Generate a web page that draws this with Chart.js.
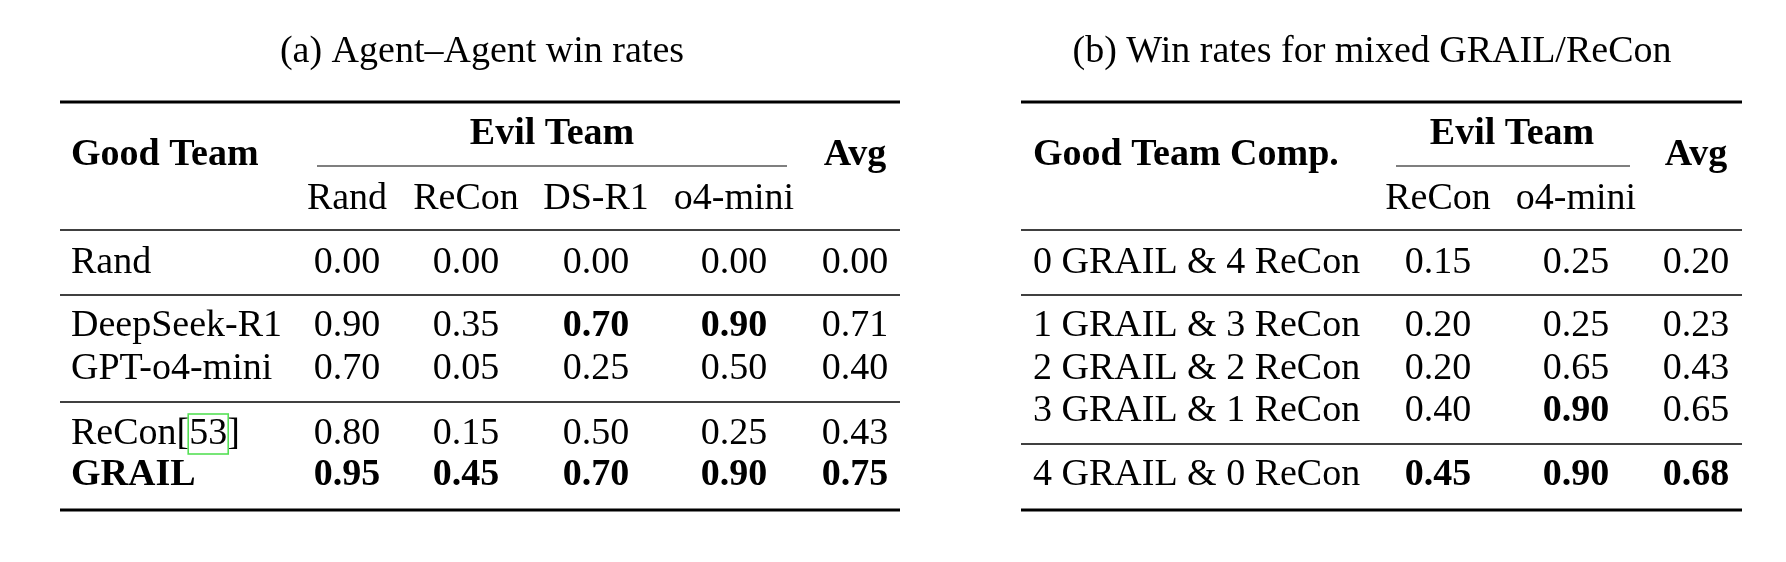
<!DOCTYPE html>
<html>
<head>
<meta charset="utf-8">
<script src="https://cdn.jsdelivr.net/npm/chart.js@4/dist/chart.umd.min.js"></script>
<style>
  html, body { margin: 0; padding: 0; background: #fff; }
  #wrap { width: 1786px; height: 562px; }
</style>
</head>
<body>
<div id="wrap"><canvas id="tbl"></canvas></div>
<script>
// Table (a): Agent-Agent win rates
const evilA = ['Rand', 'ReCon', 'DS-R1', 'o4-mini'];
const goodA = ['Rand', 'DeepSeek-R1', 'GPT-o4-mini', 'ReCon', 'GRAIL'];
const valuesA = [
  [0.00, 0.00, 0.00, 0.00, 0.00],
  [0.90, 0.35, 0.70, 0.90, 0.71],
  [0.70, 0.05, 0.25, 0.50, 0.40],
  [0.80, 0.15, 0.50, 0.25, 0.43],
  [0.95, 0.45, 0.70, 0.90, 0.75]
];
const boldA = [
  [0, 0, 0, 0, 0],
  [0, 0, 1, 1, 0],
  [0, 0, 0, 0, 0],
  [0, 0, 0, 0, 0],
  [1, 1, 1, 1, 1]
];

// Table (b): mixed GRAIL/ReCon
const evilB = ['ReCon', 'o4-mini'];
const goodB = ['0 GRAIL & 4 ReCon', '1 GRAIL & 3 ReCon', '2 GRAIL & 2 ReCon', '3 GRAIL & 1 ReCon', '4 GRAIL & 0 ReCon'];
const valuesB = [
  [0.15, 0.25, 0.20],
  [0.20, 0.25, 0.23],
  [0.20, 0.65, 0.43],
  [0.40, 0.90, 0.65],
  [0.45, 0.90, 0.68]
];
const boldB = [
  [0, 0, 0],
  [0, 0, 0],
  [0, 0, 0],
  [0, 1, 0],
  [1, 1, 1]
];

// layout (in page pixels, mapped through the chart's linear scales)
const layoutA = {
  title: '(a) Agent\u2013Agent win rates', titleX: 482,
  x0: 60, x1: 900, labelX: 71, cols: [347, 466, 596, 734, 855],
  evilX: 552, evilLine: [317, 787], rows: [263, 326, 369, 434, 475],
  rules: [230, 295, 402], head: 'Good Team', titleBold: false
};
const layoutB = {
  title: '(b) Win rates for mixed GRAIL/ReCon', titleX: 1372,
  x0: 1021, x1: 1742, labelX: 1033, cols: [1438, 1576, 1696],
  evilX: 1512, evilLine: [1396, 1630], rows: [263, 326, 369, 411, 475],
  rules: [230, 295, 444], head: 'Good Team Comp.'
};

const FONT = '"Liberation Serif", "Times New Roman", serif';
const SIZE = 38;

const tablePlugin = {
  id: 'tablePlugin',
  afterDraw(chart) {
    const ctx = chart.ctx;
    const sx = chart.scales.x, sy = chart.scales.y;
    const X = v => sx.getPixelForValue(v);
    const Y = v => sy.getPixelForValue(v);

    function rule(x0, x1, y, w) {
      ctx.beginPath();
      ctx.lineWidth = w;
      ctx.strokeStyle = '#000';
      ctx.moveTo(X(x0), Y(y));
      ctx.lineTo(X(x1), Y(y));
      ctx.stroke();
    }
    function text(s, x, y, align, bold) {
      ctx.font = (bold ? 'bold ' : '') + SIZE + 'px ' + FONT;
      ctx.fillStyle = '#000';
      ctx.textAlign = align;
      ctx.textBaseline = 'middle';
      ctx.fillText(s, X(x), Y(y));
    }

    function drawTable(L, evil, good, vals, bold) {
      text(L.title, L.titleX, 52, 'center', false);
      rule(L.x0, L.x1, 102, 3);
      rule(L.x0, L.x1, 510, 3);
      L.rules.forEach(y => rule(L.x0, L.x1, y, 1.6));
      text(L.head, L.labelX, 155, 'left', true);
      text('Evil Team', L.evilX, 134, 'center', true);
      rule(L.evilLine[0], L.evilLine[1], 166, 1.2);
      text('Avg', L.cols[L.cols.length - 1], 155, 'center', true);
      evil.forEach((e, i) => text(e, L.cols[i], 199, 'center', false));
      good.forEach((g, r) => {
        const b = bold[r].every(v => v) && vals[0].length === 5;
        if (g === 'ReCon' && vals[0].length === 5) {
          // label with citation box
          ctx.font = SIZE + 'px ' + FONT;
          const w1 = ctx.measureText('ReCon[').width;
          const w2 = ctx.measureText('53').width;
          text('ReCon[53]', L.labelX, L.rows[r], 'left', false);
          ctx.strokeStyle = '#55e055';
          ctx.lineWidth = 1.6;
          ctx.strokeRect(X(L.labelX) + w1 - 1, Y(L.rows[r]) - 20, w2 + 2, 40);
        } else {
          text(g, L.labelX, L.rows[r], 'left', b);
        }
        vals[r].forEach((v, c) => text(v.toFixed(2), L.cols[c], L.rows[r], 'center', bold[r][c]));
      });
    }

    drawTable(layoutA, evilA, goodA, valuesA, boldA);
    drawTable(layoutB, evilB, goodB, valuesB, boldB);
  }
};

new Chart(document.getElementById('tbl'), {
  type: 'scatter',
  data: { datasets: [{ data: [] }] },
  options: {
    responsive: true,
    maintainAspectRatio: false,
    animation: false,
    layout: { padding: 0 },
    plugins: { legend: { display: false }, tooltip: { enabled: false } },
    scales: {
      x: { type: 'linear', min: 0, max: 1786, display: false },
      y: { type: 'linear', min: 0, max: 562, reverse: true, display: false }
    }
  },
  plugins: [tablePlugin]
});
</script>
</body>
</html>
